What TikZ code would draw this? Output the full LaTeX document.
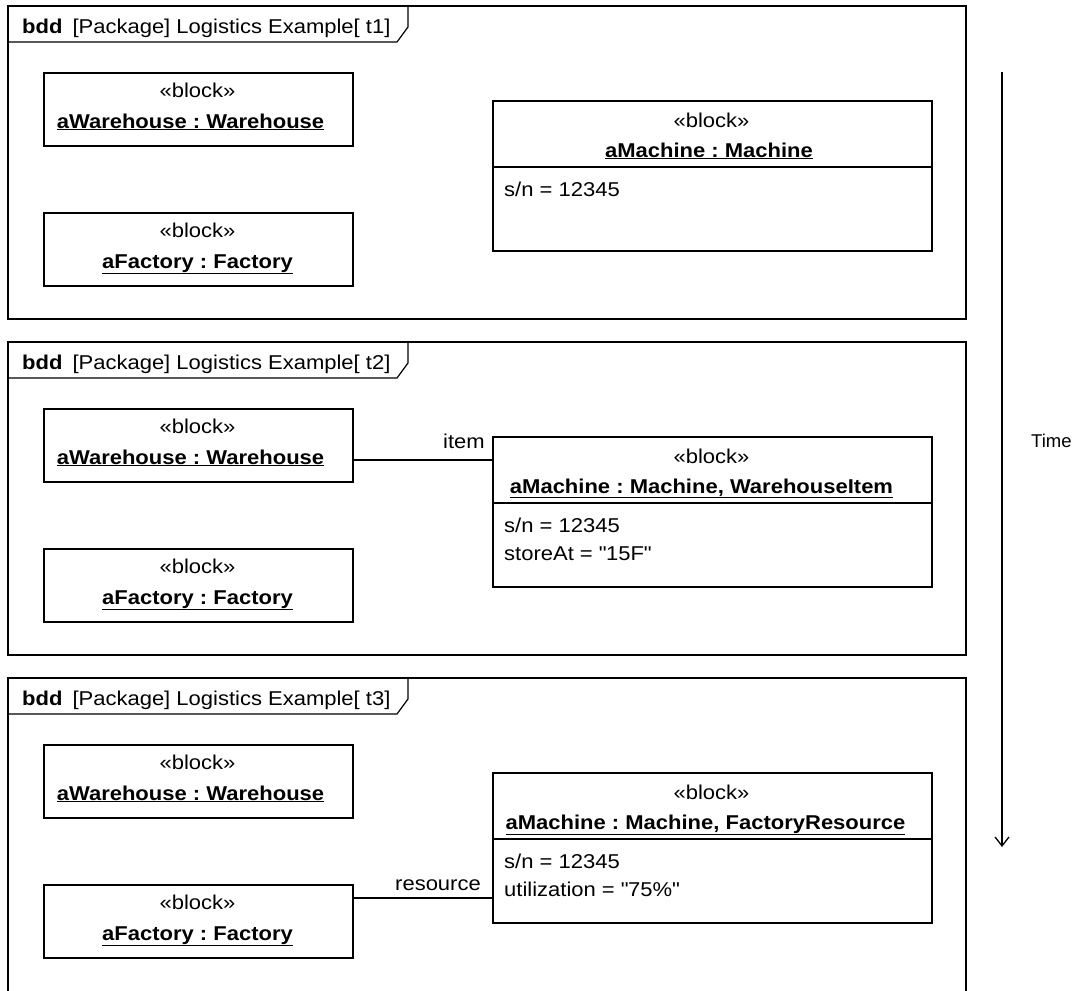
\documentclass[tikz,border=0pt]{standalone}
\usepackage{fontspec}
\setmainfont{Liberation Sans}[FakeStretch=1.1]
\newfontfamily\timefont{Liberation Sans}
\usetikzlibrary{arrows.meta,shadows}
\frenchspacing
\begin{document}
\begin{tikzpicture}[x=1pt,y=-1pt,
  frame/.style={line width=1.2pt},
  blk/.style={draw, line width=1.5pt, fill=white, inner sep=0pt, anchor=north west,
    drop shadow={shadow xshift=1.3pt, shadow yshift=-1.3pt, fill=black!45, opacity=1}},
  txt/.style={inner sep=0pt, font=\fontsize{20}{22}\selectfont},
  conn/.style={line width=1.3pt}
]
\useasboundingbox (0,0) rectangle (1072,991);
\fill[white] (0,0) rectangle (1072,991);

% frames
\draw[frame] (8,6) rectangle (966,319);
\draw[frame] (8,342) rectangle (966,655);
\draw[frame] (8,991) -- (8,678) -- (966,678) -- (966,991);

\foreach \i/\dy in {1/0, 2/336, 3/672}{
  \draw[frame] (8,42+\dy) -- (397,42+\dy) -- (408,27+\dy) -- (408,6+\dy);
  \node[txt, anchor=base west] (hd\i) at (22,33+\dy) {\textbf{bdd}\hspace{10pt}[Package] Logistics Example[ t\i]};
  \node[blk, minimum width=309, minimum height=73] (wh\i) at (43,72+\dy) {};
  \node[txt, anchor=base] (whs\i) at (197.5,97+\dy) {«block»};
  \node[txt, anchor=base] (whn\i) at (190.5,128+\dy) {\textbf{\underline{aWarehouse : Warehouse}}};
  \node[blk, minimum width=309, minimum height=73] (fa\i) at (43,212+\dy) {};
  \node[txt, anchor=base] (fas\i) at (197.5,237+\dy) {«block»};
  \node[txt, anchor=base] (fan\i) at (197.5,268+\dy) {\textbf{\underline{aFactory : Factory}}};
  \node[blk, minimum width=439, minimum height=150] (m\i) at (492,100+\dy) {};
  \draw[line width=1.2pt] (m\i.west |- 0,167+\dy) coordinate (dl\i) -- (m\i.east |- dl\i);
  \node[txt, anchor=base] (ms\i) at (711.5,127+\dy) {«block»};
  \node[txt, anchor=base west] (ma\i) at (504,196+\dy) {s/n = 12345};
}

\node[txt, anchor=base] (mn1) at (709,157) {\textbf{\underline{aMachine : Machine}}};
\node[txt, anchor=base] (mn2) at (701.5,493) {\textbf{\underline{aMachine : Machine, WarehouseItem}}};
\node[txt, anchor=base west] (mb2) at (504,560) {storeAt = \textquotedbl 15F\textquotedbl};
\node[txt, anchor=base] (mn3) at (705.5,829) {\textbf{\underline{aMachine : Machine, FactoryResource}}};
\node[txt, anchor=base west] (mb3) at (504,896) {utilization = \textquotedbl 75\%\textquotedbl};

% connectors
\coordinate (c2) at (492,460);
\draw[conn] (wh2.east |- c2) -- (m2.west |- c2);
\node[txt, anchor=base east] (lbl2) at (485,448) {item};
\coordinate (c3) at (492,898);
\draw[conn] (fa3.east |- c3) -- (m3.west |- c3);
\node[txt, anchor=base east] (lbl3) at (481,890) {resource};

% time arrow
\coordinate (ts) at (1002,72);
\coordinate (te) at (1002,847);
\draw[line width=1.3pt, -{Straight Barb[length=9pt,width=14pt,line width=1.3pt]}] (ts) -- (te);
\node[inner sep=0pt, anchor=base west, font=\timefont\fontsize{18.5}{22}\selectfont] (time) at (1031,447) {Time};
\end{tikzpicture}
\end{document}
